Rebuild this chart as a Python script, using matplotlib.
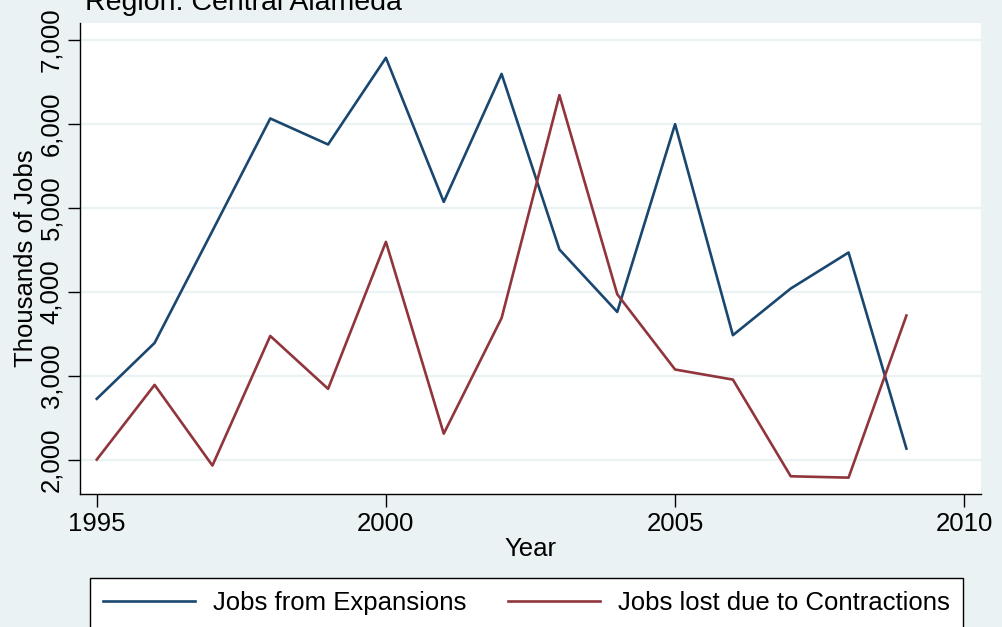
import matplotlib
matplotlib.use('Agg')
import matplotlib.pyplot as plt
from matplotlib.ticker import FuncFormatter

plt.rcParams['font.family'] = ['Liberation Sans', 'DejaVu Sans']

# data
years = [1995, 1996, 1997, 1998, 1999, 2000, 2001, 2002, 2003, 2004, 2005, 2006, 2007, 2008, 2009]
expansions = [2724, 3390, 4725, 6064, 5754, 6787, 5070, 6595, 4503, 3759, 5996, 3482, 4038, 4467, 2131]
contractions = [2000, 2890, 1929, 3473, 2843, 4594, 2309, 3686, 6342, 3970, 3073, 2953, 1801, 1785, 3716]
x_ticks = [1995, 2000, 2005, 2010]
y_ticks = [2000, 3000, 4000, 5000, 6000, 7000]
region = 'Central Alameda'

bg = '#EAF2F3'
navy = '#1a476f'
maroon = '#90353b'
fs = 18.5

fig = plt.figure(figsize=(10.02, 6.27), dpi=100, facecolor=bg)
ax = fig.add_axes([80/1002, 1-494/627, (981-80)/1002, (494-22.7)/627])
ax.set_facecolor('white')

l1, = ax.plot(years, expansions, color=navy, lw=1.9, label='Jobs from Expansions')
l2, = ax.plot(years, contractions, color=maroon, lw=1.9, label='Jobs lost due to Contractions')

ax.set_xlim(1994.71, 2010.29)
ax.set_ylim(1590, 7205)
ax.set_xticks(x_ticks)
ax.set_yticks(y_ticks)
ax.yaxis.set_major_formatter(FuncFormatter(lambda v, p: f'{int(v):,}'))
ax.grid(axis='y', color=bg, lw=1.6)
ax.set_axisbelow(True)

for s in ['top', 'right']:
    ax.spines[s].set_visible(False)
for s in ['left', 'bottom']:
    ax.spines[s].set_color('black')
    ax.spines[s].set_linewidth(1.0)

ax.tick_params(axis='both', direction='out', length=9, width=1.0, labelsize=fs, color='black')
ax.tick_params(axis='x', pad=4)
ax.tick_params(axis='y', pad=3)
for lab in ax.get_yticklabels():
    lab.set_rotation(90)
    lab.set_va('center')

ax.set_xlabel('Year', fontsize=fs, labelpad=1)
ax.set_ylabel('Thousands of Jobs', fontsize=fs, labelpad=1)

fig.text(85/1002, 1-10/627, 'Region: ' + region, fontsize=20.5, va='baseline', ha='left')

leg = fig.legend(handles=[l1, l2], loc='upper left', ncol=2,
                 bbox_to_anchor=(90/1002, 0, 883/1002, 1-578/627),
                 fontsize=18.5, frameon=True, fancybox=False, edgecolor='black',
                 facecolor='white', framealpha=1, handlelength=3.6, handletextpad=0.7,
                 columnspacing=1.6, borderpad=0.5, borderaxespad=0)
leg.get_frame().set_linewidth(1.0)

fig.savefig('out.png', dpi=100, facecolor=bg)
